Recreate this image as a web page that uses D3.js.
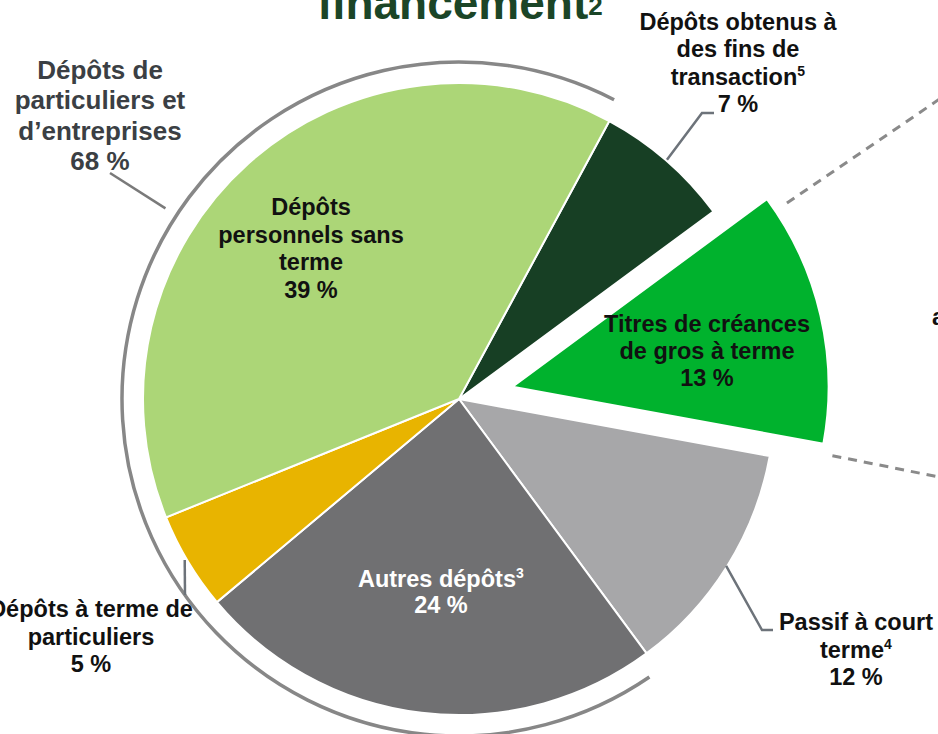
<!DOCTYPE html>
<meta charset="utf-8">
<style>
    body { margin: 0; background: #fff; }
    svg { display: block; font-family: "Liberation Sans", Arial, sans-serif; font-weight: bold; }
</style>
<svg width="938" height="734"></svg>
<script src="https://d3js.org/d3.v7.min.js"></script>
<script>

    // slices, clockwise from the top right
    var categories = [
        "Dépôts obtenus à des fins de transaction",
        "Titres de créances de gros à terme",
        "Passif à court terme",
        "Autres dépôts",
        "Dépôts à terme de particuliers",
        "Dépôts personnels sans terme"
    ];
    var values = [7, 13, 12, 24, 5, 39];

    // label text per slice ("^" marks a footnote number), the % line is added from values
    var labelLines = [
        ["Dépôts obtenus à", "des fins de", "transaction^5"],
        ["Titres de créances", "de gros à terme"],
        ["Passif à court", "terme^4"],
        ["Autres dépôts^3"],
        ["Dépôts à terme de", "particuliers"],
        ["Dépôts", "personnels sans", "terme"]
    ];

    // slices grouped under the outer ring
    var groupLines = ["Dépôts de", "particuliers et", "d’entreprises"];
    var groupMembers = [3, 4, 5];

    var colors = ["#173f24", "#00b22d", "#a7a7a9", "#707072", "#e8b400", "#acd677"];
    var textColors = ["#111", "#111", "#111", "#fff", "#111", "#111"];

    var svg = d3.select("svg"),
        cx = 459, cy = 399, R = 316,
        explodeIndex = 1, explode = 55,
        deg = Math.PI / 180;

    var pie = d3.pie().sort(null).value(function(d) { return d; })
        .startAngle(28.4 * deg).endAngle(28.4 * deg + 2 * Math.PI);
    var arcs = pie(values);
    var arc = d3.arc().innerRadius(0).outerRadius(R);

    function mid(d) { return (d.startAngle + d.endAngle) / 2; }
    function offset(i) {
        return i === explodeIndex ? d3.pointRadial(mid(arcs[i]), explode) : [0, 0];
    }

    // title (cut off at the top like the source)
    var title = svg.append("text")
        .attr("x", 460).attr("y", 19)
        .attr("text-anchor", "middle")
        .attr("font-size", "46px")
        .attr("fill", "#1b4527");
    title.append("tspan").text("financement");
    title.append("tspan").attr("font-size", "26px").attr("dy", -4).text("2");

    var g = svg.append("g").attr("transform", "translate(" + cx + "," + cy + ")");

    // dashed zoom lines from the pulled out slice
    var ex = arcs[explodeIndex], exOff = offset(explodeIndex);
    var dashLines = [
        {angle: ex.startAngle, gap: [20, 4], dir: -34.3},
        {angle: ex.endAngle, gap: [9, 12], dir: 11.3}
    ];
    g.selectAll(".dash")
        .data(dashLines)
        .join("line")
        .attr("class", "dash")
        .each(function(d) {
            var p = d3.pointRadial(d.angle, R);
            var x0 = p[0] + exOff[0] + d.gap[0], y0 = p[1] + exOff[1] + d.gap[1];
            d3.select(this)
                .attr("x1", x0).attr("y1", y0)
                .attr("x2", x0 + 300 * Math.cos(d.dir * deg))
                .attr("y2", y0 + 300 * Math.sin(d.dir * deg));
        })
        .attr("stroke", "#8a8a8a")
        .attr("stroke-width", 3)
        .attr("stroke-dasharray", "9 7");

    // slices
    g.selectAll(".slice")
        .data(arcs)
        .join("path")
        .attr("class", "slice")
        .attr("d", arc)
        .attr("transform", function(d, i) { return "translate(" + offset(i) + ")"; })
        .attr("fill", function(d, i) { return colors[i]; })
        .attr("stroke", "#fff")
        .attr("stroke-width", 2);

    // outer ring round the grouped slices
    var ringR = 337;
    var a0 = arcs[groupMembers[0]].startAngle + 2 * deg,
        a1 = arcs[groupMembers[groupMembers.length - 1]].endAngle - 1 * deg;
    var ring = d3.path();
    ring.arc(0, 0, ringR, a0 - Math.PI / 2, a1 - Math.PI / 2);
    g.append("path")
        .attr("d", ring.toString())
        .attr("fill", "none")
        .attr("stroke", "#878787")
        .attr("stroke-width", 3.5);

    // leader lines: start on the pie edge, then elbow to the label
    var leaders = [
        {angle: 41, r: 317, pts: [[702, 113], [714, 113]], color: "#6d737a"},
        {angle: 122, r: 315, pts: [[762, 630], [773, 630]], color: "#6d737a"},
        {angle: 239.6, r: 318, pts: [[185, 595]], color: "#6d737a"},
        {angle: 303, r: 350, pts: [[110, 173]], color: "#7a7a7a"}
    ];
    var line = d3.line();
    svg.selectAll(".leader")
        .data(leaders)
        .join("path")
        .attr("class", "leader")
        .attr("d", function(d) {
            var p = d3.pointRadial(d.angle * deg, d.r);
            return line([[cx + p[0], cy + p[1]]].concat(d.pts));
        })
        .attr("fill", "none")
        .attr("stroke", function(d) { return d.color; })
        .attr("stroke-width", 2.5);

    // label placement: centre x and first baseline
    var labelPos = [
        {x: 738, y: 30, gap: 27.3},
        {x: 707, y: 332, gap: 27},
        {x: 856, y: 630, gap: 27.5},
        {x: 441, y: 587, gap: 25.5},
        {x: 91, y: 617, gap: 27.5},
        {x: 311, y: 215, gap: 27.7}
    ];

    function writeLines(sel, lines) {
        lines.forEach(function(s, k) {
            var parts = s.split("^");
            var t = sel.append("tspan").attr("x", sel.attr("x")).attr("dy", k === 0 ? 0 : sel.attr("data-gap"));
            t.text(parts[0]);
            if (parts[1]) {
                sel.append("tspan").attr("font-size", "14px").attr("dy", -9).text(parts[1]);
                sel.append("tspan").attr("font-size", "1px").attr("dy", 9).text(" ");
            }
        });
    }

    svg.selectAll(".label")
        .data(arcs)
        .join("text")
        .attr("class", "label")
        .attr("x", function(d, i) { return labelPos[i].x; })
        .attr("y", function(d, i) { return labelPos[i].y; })
        .attr("data-gap", function(d, i) { return labelPos[i].gap; })
        .attr("text-anchor", "middle")
        .attr("font-size", "23.5px")
        .attr("fill", function(d, i) { return textColors[i]; })
        .each(function(d, i) {
            writeLines(d3.select(this), labelLines[i].concat([d.data + " %"]));
        });

    // group label
    var groupTotal = d3.sum(groupMembers, function(i) { return values[i]; });
    var gl = svg.append("text")
        .attr("x", 100).attr("y", 79)
        .attr("data-gap", 30.3)
        .attr("text-anchor", "middle")
        .attr("font-size", "26px")
        .attr("fill", "#3b3f44");
    writeLines(gl, groupLines.concat([groupTotal + " %"]));

    // text of the next panel, cut by the right edge
    svg.append("text")
        .attr("x", 932).attr("y", 325)
        .attr("font-size", "23.5px")
        .attr("fill", "#111")
        .text("a");

</script>
